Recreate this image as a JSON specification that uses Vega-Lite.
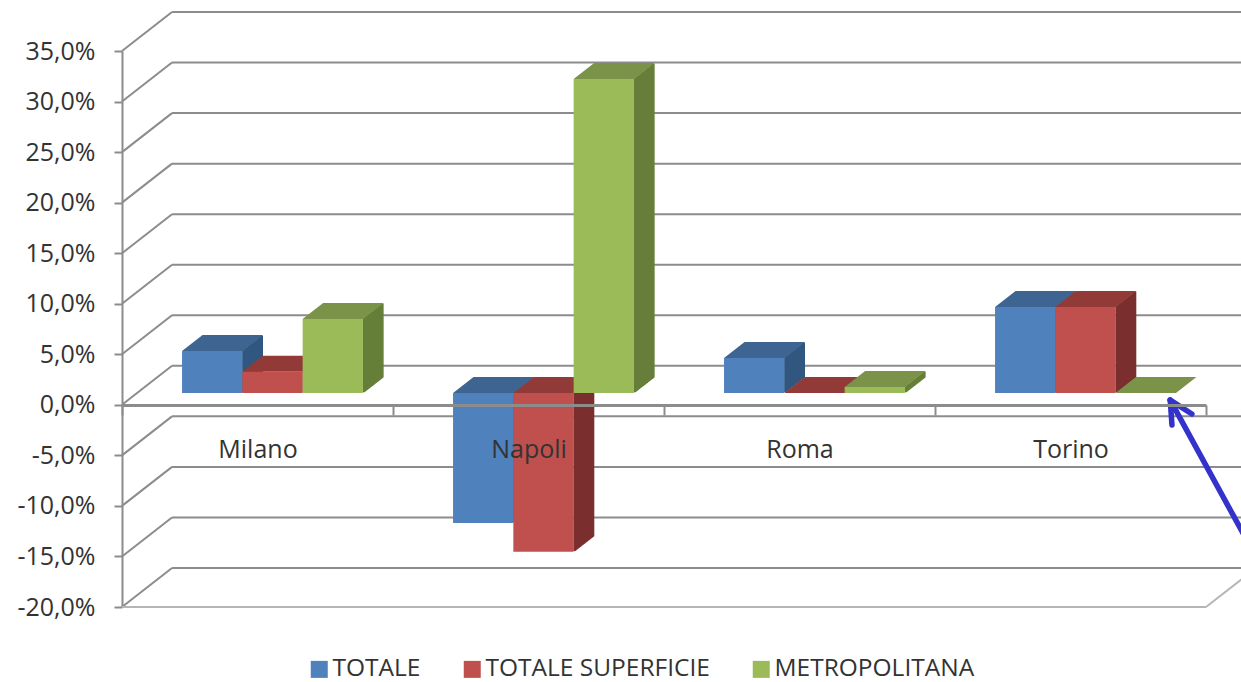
{
"$schema":"https://vega.github.io/schema/vega-lite/v6.json",
"width":1084,"height":556,"autosize":"none",
"padding":{"left":122,"top":51,"right":35,"bottom":75},
"background":"white",
"config":{"view":{"stroke":null},"font":"Open Sans"},
"datasets":{
"bars":[
{"citta":"Milano","serie":"TOTALE","valore":0.0415},
{"citta":"Milano","serie":"TOTALE SUPERFICIE","valore":0.0211},
{"citta":"Milano","serie":"METROPOLITANA","valore":0.0732},
{"citta":"Napoli","serie":"TOTALE","valore":-0.1286},
{"citta":"Napoli","serie":"TOTALE SUPERFICIE","valore":-0.1571},
{"citta":"Napoli","serie":"METROPOLITANA","valore":0.3106},
{"citta":"Roma","serie":"TOTALE","valore":0.0346},
{"citta":"Roma","serie":"TOTALE SUPERFICIE","valore":0.0},
{"citta":"Roma","serie":"METROPOLITANA","valore":0.0059},
{"citta":"Torino","serie":"TOTALE","valore":0.0851},
{"citta":"Torino","serie":"TOTALE SUPERFICIE","valore":0.0851},
{"citta":"Torino","serie":"METROPOLITANA","valore":0.0}
],
"grid":[{"v":-0.2},{"v":-0.15},{"v":-0.1},{"v":-0.05},{"v":0},{"v":0.05},{"v":0.1},{"v":0.15},{"v":0.2},{"v":0.25},{"v":0.3},{"v":0.35}],
"arrow":[
{"xa":0.967,"ya":0.0047,"xb":1.0406,"yb":-0.1397},
{"xa":0.967,"ya":0.0047,"xb":0.9686,"yb":-0.02},
{"xa":0.967,"ya":0.0047,"xb":0.987,"yb":-0.0091}
]
},
"layer":[
{"data":{"name":"grid"},
 "layer":[
 {"mark":{"type":"rule","color":"#8C8C8C","strokeWidth":2,"y2Offset":-39,"x2Offset":50},
  "encoding":{
   "x":{"datum":0,"scale":{"domain":[0,1],"range":[0,1084],"zero":false,"nice":false},"axis":null},
   "x2":{"datum":0},
   "y":{"field":"v","type":"quantitative","scale":{"domain":[-0.2,0.35],"nice":false,"zero":false},"axis":null},
   "y2":{"field":"v"}}},
 {"mark":{"type":"rule","color":"#8C8C8C","strokeWidth":2,"xOffset":50,"yOffset":-39,"y2Offset":-39,"x2Offset":36},
  "encoding":{
   "x":{"datum":0,"scale":{"domain":[0,1],"range":[0,1084],"zero":false,"nice":false},"axis":null},
   "x2":{"datum":1},
   "y":{"field":"v","type":"quantitative","axis":null},
   "y2":{"field":"v"}}},
 {"transform":[{"filter":"datum.v == -0.2"}],
  "mark":{"type":"rule","color":"#B5B5B5","strokeWidth":2},
  "encoding":{
   "x":{"datum":0,"scale":{"domain":[0,1],"range":[0,1084],"zero":false,"nice":false},"axis":null},
   "x2":{"datum":1},
   "y":{"field":"v","type":"quantitative","axis":null},
   "y2":{"field":"v"}}},
 {"transform":[{"filter":"datum.v == -0.2"}],
  "mark":{"type":"rule","color":"#B5B5B5","strokeWidth":2,"x2Offset":50,"y2Offset":-39},
  "encoding":{
   "x":{"datum":1,"scale":{"domain":[0,1],"range":[0,1084],"zero":false,"nice":false},"axis":null},
   "x2":{"datum":1},
   "y":{"field":"v","type":"quantitative","axis":null},
   "y2":{"field":"v"}}}
 ]},
{"data":{"name":"bars"},
 "layer":[
 {"encoding":{
   "x":{"field":"citta","type":"nominal","axis":null,"scale":{"paddingInner":0,"paddingOuter":0,"range":[15,1099]}},
   "y":{"field":"valore","type":"quantitative","axis":null,"scale":{"domain":[-0.2,0.35],"nice":false,"zero":false}},
   "y2":{"datum":0},
   "color":{"field":"serie","type":"nominal","legend":null,"scale":{"domain":["TOTALE","TOTALE SUPERFICIE","METROPOLITANA"],"range":["#315780","#7A2F2D","#667F3A"]}}
  },
  "resolve":{"scale":{"xOffset":"independent"}},
  "layer":[
  {"mark":{"type":"rule","strokeWidth":2.4,"yOffset":-12.58,"y2Offset":-12.58},"encoding":{"xOffset":{"field":"serie","type":"nominal","scale":{"type":"point","padding":0,"domain":["TOTALE","TOTALE SUPERFICIE","METROPOLITANA"],"range":[106.3,226.9]}}}},
  {"mark":{"type":"rule","strokeWidth":2.4,"yOffset":-13.36,"y2Offset":-13.36},"encoding":{"xOffset":{"field":"serie","type":"nominal","scale":{"type":"point","padding":0,"domain":["TOTALE","TOTALE SUPERFICIE","METROPOLITANA"],"range":[107.3,227.9]}}}},
  {"mark":{"type":"rule","strokeWidth":2.4,"yOffset":-14.14,"y2Offset":-14.14},"encoding":{"xOffset":{"field":"serie","type":"nominal","scale":{"type":"point","padding":0,"domain":["TOTALE","TOTALE SUPERFICIE","METROPOLITANA"],"range":[108.3,228.9]}}}},
  {"mark":{"type":"rule","strokeWidth":2.4,"yOffset":-14.92,"y2Offset":-14.92},"encoding":{"xOffset":{"field":"serie","type":"nominal","scale":{"type":"point","padding":0,"domain":["TOTALE","TOTALE SUPERFICIE","METROPOLITANA"],"range":[109.3,229.9]}}}},
  {"mark":{"type":"rule","strokeWidth":2.4,"yOffset":-15.7,"y2Offset":-15.7},"encoding":{"xOffset":{"field":"serie","type":"nominal","scale":{"type":"point","padding":0,"domain":["TOTALE","TOTALE SUPERFICIE","METROPOLITANA"],"range":[110.3,230.9]}}}},
  {"mark":{"type":"rule","strokeWidth":2.4,"yOffset":-16.48,"y2Offset":-16.48},"encoding":{"xOffset":{"field":"serie","type":"nominal","scale":{"type":"point","padding":0,"domain":["TOTALE","TOTALE SUPERFICIE","METROPOLITANA"],"range":[111.3,231.9]}}}},
  {"mark":{"type":"rule","strokeWidth":2.4,"yOffset":-17.26,"y2Offset":-17.26},"encoding":{"xOffset":{"field":"serie","type":"nominal","scale":{"type":"point","padding":0,"domain":["TOTALE","TOTALE SUPERFICIE","METROPOLITANA"],"range":[112.3,232.9]}}}},
  {"mark":{"type":"rule","strokeWidth":2.4,"yOffset":-18.04,"y2Offset":-18.04},"encoding":{"xOffset":{"field":"serie","type":"nominal","scale":{"type":"point","padding":0,"domain":["TOTALE","TOTALE SUPERFICIE","METROPOLITANA"],"range":[113.3,233.9]}}}},
  {"mark":{"type":"rule","strokeWidth":2.4,"yOffset":-18.82,"y2Offset":-18.82},"encoding":{"xOffset":{"field":"serie","type":"nominal","scale":{"type":"point","padding":0,"domain":["TOTALE","TOTALE SUPERFICIE","METROPOLITANA"],"range":[114.3,234.9]}}}},
  {"mark":{"type":"rule","strokeWidth":2.4,"yOffset":-19.6,"y2Offset":-19.6},"encoding":{"xOffset":{"field":"serie","type":"nominal","scale":{"type":"point","padding":0,"domain":["TOTALE","TOTALE SUPERFICIE","METROPOLITANA"],"range":[115.3,235.9]}}}},
  {"mark":{"type":"rule","strokeWidth":2.4,"yOffset":-20.38,"y2Offset":-20.38},"encoding":{"xOffset":{"field":"serie","type":"nominal","scale":{"type":"point","padding":0,"domain":["TOTALE","TOTALE SUPERFICIE","METROPOLITANA"],"range":[116.3,236.9]}}}},
  {"mark":{"type":"rule","strokeWidth":2.4,"yOffset":-21.16,"y2Offset":-21.16},"encoding":{"xOffset":{"field":"serie","type":"nominal","scale":{"type":"point","padding":0,"domain":["TOTALE","TOTALE SUPERFICIE","METROPOLITANA"],"range":[117.3,237.9]}}}},
  {"mark":{"type":"rule","strokeWidth":2.4,"yOffset":-21.94,"y2Offset":-21.94},"encoding":{"xOffset":{"field":"serie","type":"nominal","scale":{"type":"point","padding":0,"domain":["TOTALE","TOTALE SUPERFICIE","METROPOLITANA"],"range":[118.3,238.9]}}}},
  {"mark":{"type":"rule","strokeWidth":2.4,"yOffset":-22.72,"y2Offset":-22.72},"encoding":{"xOffset":{"field":"serie","type":"nominal","scale":{"type":"point","padding":0,"domain":["TOTALE","TOTALE SUPERFICIE","METROPOLITANA"],"range":[119.3,239.9]}}}},
  {"mark":{"type":"rule","strokeWidth":2.4,"yOffset":-23.5,"y2Offset":-23.5},"encoding":{"xOffset":{"field":"serie","type":"nominal","scale":{"type":"point","padding":0,"domain":["TOTALE","TOTALE SUPERFICIE","METROPOLITANA"],"range":[120.3,240.9]}}}},
  {"mark":{"type":"rule","strokeWidth":2.4,"yOffset":-24.28,"y2Offset":-24.28},"encoding":{"xOffset":{"field":"serie","type":"nominal","scale":{"type":"point","padding":0,"domain":["TOTALE","TOTALE SUPERFICIE","METROPOLITANA"],"range":[121.3,241.9]}}}},
  {"mark":{"type":"rule","strokeWidth":2.4,"yOffset":-25.06,"y2Offset":-25.06},"encoding":{"xOffset":{"field":"serie","type":"nominal","scale":{"type":"point","padding":0,"domain":["TOTALE","TOTALE SUPERFICIE","METROPOLITANA"],"range":[122.3,242.9]}}}},
  {"mark":{"type":"rule","strokeWidth":2.4,"yOffset":-25.84,"y2Offset":-25.84},"encoding":{"xOffset":{"field":"serie","type":"nominal","scale":{"type":"point","padding":0,"domain":["TOTALE","TOTALE SUPERFICIE","METROPOLITANA"],"range":[123.3,243.9]}}}},
  {"mark":{"type":"rule","strokeWidth":2.4,"yOffset":-26.62,"y2Offset":-26.62},"encoding":{"xOffset":{"field":"serie","type":"nominal","scale":{"type":"point","padding":0,"domain":["TOTALE","TOTALE SUPERFICIE","METROPOLITANA"],"range":[124.3,244.9]}}}},
  {"mark":{"type":"rule","strokeWidth":2.4,"yOffset":-27.4,"y2Offset":-27.4},"encoding":{"xOffset":{"field":"serie","type":"nominal","scale":{"type":"point","padding":0,"domain":["TOTALE","TOTALE SUPERFICIE","METROPOLITANA"],"range":[124.8,245.4]}}}}
  ]},
 {"transform":[{"filter":"datum.valore >= 0"}],
  "mark":{"type":"point","filled":true,"opacity":1,"size":4,"strokeWidth":0,"yOffset":-11.8,"shape":"M-30.15,0L30.15,0L50.65,-16L-9.65,-16Z"},
  "encoding":{
   "x":{"field":"citta","type":"nominal","axis":null,"scale":{"paddingInner":0,"paddingOuter":0,"range":[15,1099]}},
   "xOffset":{"field":"serie","type":"nominal","scale":{"domain":["TOTALE","TOTALE SUPERFICIE","METROPOLITANA"],"paddingInner":0,"paddingOuter":0.747}},
   "y":{"field":"valore","type":"quantitative","axis":null,"scale":{"domain":[-0.2,0.35],"nice":false,"zero":false}},
   "color":{"field":"serie","type":"nominal","legend":null,"scale":{"domain":["TOTALE","TOTALE SUPERFICIE","METROPOLITANA"],"range":["#3E6592","#923A38","#7A9348"]}}
  }},
 {"transform":[{"filter":"datum.valore < 0"}],
  "mark":{"type":"point","filled":true,"opacity":1,"size":4,"strokeWidth":0,"yOffset":-11.8,"shape":"M-30.15,0L30.15,0L50.65,-16L-9.65,-16Z"},
  "encoding":{
   "x":{"field":"citta","type":"nominal","axis":null,"scale":{"paddingInner":0,"paddingOuter":0,"range":[15,1099]}},
   "xOffset":{"field":"serie","type":"nominal","scale":{"domain":["TOTALE","TOTALE SUPERFICIE","METROPOLITANA"],"paddingInner":0,"paddingOuter":0.747}},
   "y":{"datum":0,"type":"quantitative","axis":null},
   "color":{"field":"serie","type":"nominal","legend":null,"scale":{"domain":["TOTALE","TOTALE SUPERFICIE","METROPOLITANA"],"range":["#3E6592","#923A38","#7A9348"]}}
  }},
 {"mark":{"type":"bar","yOffset":-11.8,"y2Offset":-11.8},
  "encoding":{
   "x":{"field":"citta","type":"nominal","axis":null,"scale":{"paddingInner":0,"paddingOuter":0,"range":[15,1099]}},
   "xOffset":{"field":"serie","type":"nominal","scale":{"domain":["TOTALE","TOTALE SUPERFICIE","METROPOLITANA"],"paddingInner":0,"paddingOuter":0.747}},
   "y":{"field":"valore","type":"quantitative","axis":null},
   "y2":{"datum":0},
   "color":{"field":"serie","type":"nominal","scale":{"domain":["TOTALE","TOTALE SUPERFICIE","METROPOLITANA"],"range":["#4F81BD","#C0504D","#9BBB59"]},
    "legend":{"title":null,"orient":"none","legendX":185,"legendY":606,"direction":"horizontal","columns":3,"symbolType":"square","symbolSize":289,"symbolStrokeWidth":0,"labelFont":"Open Sans","labelFontSize":24.5,"labelColor":"#333333","labelOffset":1,"columnPadding":39,"labelLimit":400}}
  }}
 ],
 "resolve":{"scale":{"color":"independent"}}
},
{"data":{"name":"bars"},
 "mark":{"type":"point","opacity":0,"size":1},
 "encoding":{
   "x":{"field":"citta","type":"nominal","scale":{"paddingInner":0,"paddingOuter":0},
    "axis":{"title":null,"offset":-202,"zindex":1,"labelAngle":0,"tickBand":"extent","tickSize":10,"tickWidth":2,"tickColor":"#8C8C8C","domainColor":"#8C8C8C","domainWidth":3,"labelFont":"Open Sans","labelFontSize":25,"labelColor":"#333333","labelPadding":22}},
   "y":{"field":"valore","type":"quantitative","scale":{"domain":[-0.2,0.35],"nice":false,"zero":false},
    "axis":{"title":null,"values":[-0.2,-0.15,-0.1,-0.05,0,0.05,0.1,0.15,0.2,0.25,0.3,0.35],"grid":false,"domain":true,"domainColor":"#8C8C8C","domainWidth":2,"ticks":true,"tickColor":"#8C8C8C","tickWidth":2,"tickSize":8,"labelFont":"Open Sans","labelFontSize":25,"labelColor":"#333333","labelPadding":19,"labelFlush":false,"labelOverlap":false,"labelExpr":"replace(replace(format(datum.value,'.1%'),'.',','),'\u2212','-')"}}
 }},
{"data":{"name":"arrow"},
 "mark":{"type":"rule","color":"#3333CC","strokeWidth":5.5,"strokeCap":"round"},
 "encoding":{
  "x":{"field":"xa","type":"quantitative","scale":{"domain":[0,1],"range":[0,1084],"zero":false,"nice":false},"axis":null},
  "x2":{"field":"xb"},
  "y":{"field":"ya","type":"quantitative","scale":{"domain":[-0.2,0.35],"nice":false,"zero":false},"axis":null},
  "y2":{"field":"yb"}
 }}
],
"resolve":{"scale":{"x":"independent","y":"independent"},"axis":{"x":"independent","y":"independent"}}
}
